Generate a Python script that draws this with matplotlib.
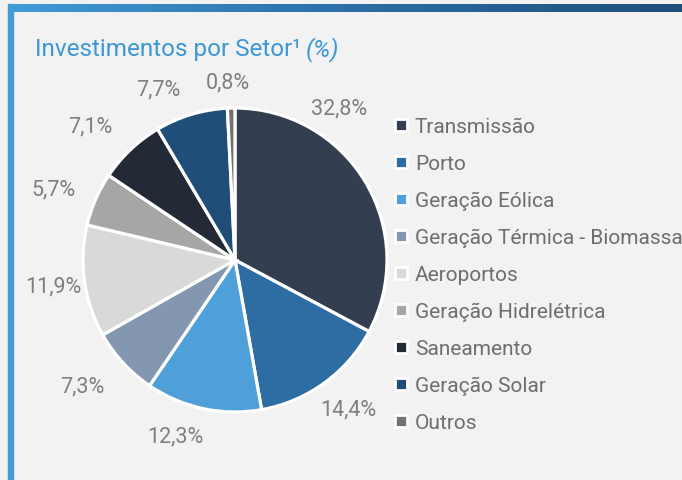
import numpy as np
import matplotlib.pyplot as plt
from matplotlib.lines import Line2D
from matplotlib.colors import LinearSegmentedColormap

# Dados
setores = ['Transmissão', 'Porto', 'Geração Eólica', 'Geração Térmica - Biomassa',
           'Aeroportos', 'Geração Hidrelétrica', 'Saneamento', 'Geração Solar', 'Outros']
valores = [32.8, 14.4, 12.3, 7.3, 11.9, 5.7, 7.1, 7.7, 0.8]
cores = ['#333f50', '#2e6ca4', '#4fa0d8', '#8497b0', '#d9d9d9',
         '#a6a6a6', '#222a35', '#1f4e79', '#767171']

# posicao dos rotulos (em raios, relativo ao centro)
pos_rotulos = [(0.684, 1.0), (0.743, -0.98), (-0.395, -1.158), (-1.007, -0.829),
               (-1.197, -0.171), (-1.197, 0.467), (-0.954, 0.882), (-0.507, 1.125),
               (-0.046, 1.171)]

plt.rcParams['font.family'] = ['Roboto', 'DejaVu Sans']

W, H = 682, 481
fig = plt.figure(figsize=(W / 100, H / 100), dpi=100)
fig.patch.set_facecolor('#f2f2f2')

# moldura: barra superior em degrade e barra lateral
bg = fig.add_axes([8 / W, 1 - 13 / H, 1 - 8 / W, 8 / H])
cmap = LinearSegmentedColormap.from_list('borda', ['#409bd7', '#2c6ea6', '#1f4e79'])
bg.imshow(np.linspace(0, 1, 256).reshape(1, -1), aspect='auto', cmap=cmap)
bg.axis('off')
fig.patches.append(plt.Rectangle((8 / W, 0), 5 / W, 1 - 5 / H, transform=fig.transFigure,
                                 color='#409bd7', zorder=0))

# pizza
cx, cy, r = 235, 261, 152
ax = fig.add_axes([(cx - r) / W, (H - cy - r) / H, 2 * r / W, 2 * r / H])
ax.set_facecolor('none')
wedges, _, autotexts = ax.pie(valores, colors=cores, startangle=90, counterclock=False,
                              radius=1, autopct=lambda p: f'{p:.1f}%'.replace('.', ','),
                              wedgeprops=dict(edgecolor='white', linewidth=2.3))
for t, (x, y) in zip(autotexts, pos_rotulos):
    t.set_position((x, y))
    t.set_ha('center')
    t.set_va('center')
    t.set_fontsize(15.5)
    t.set_color('#7f7f7f')
ax.set_xlim(-1, 1)
ax.set_ylim(-1, 1)

# legenda
handles = [Line2D([], [], marker='s', linestyle='none', markersize=9,
                  markerfacecolor=c, markeredgecolor='white', markeredgewidth=2)
           for c in cores]
fig.legend(handles, setores, loc='upper left', bbox_to_anchor=(395 / W, 1 - 118 / H),
           frameon=False, fontsize=15, labelcolor='#6e6e6e', handlelength=0.6,
           handletextpad=0.35, labelspacing=0.86, borderaxespad=0, borderpad=0)

# titulo
cor_titulo = '#3b97d5'
tt = fig.text(35 / W, 1 - 56 / H, 'Investimentos por Setor¹', fontsize=17.5,
              color=cor_titulo, va='baseline')
rend = fig.canvas.get_renderer()
bb = tt.get_window_extent(rend)
fig.text((bb.x1 + 5) / W, 1 - 56 / H, '(%)', fontsize=17.5,
         style='italic', color=cor_titulo, va='baseline')

fig.savefig('out.png', dpi=100, facecolor=fig.get_facecolor())
